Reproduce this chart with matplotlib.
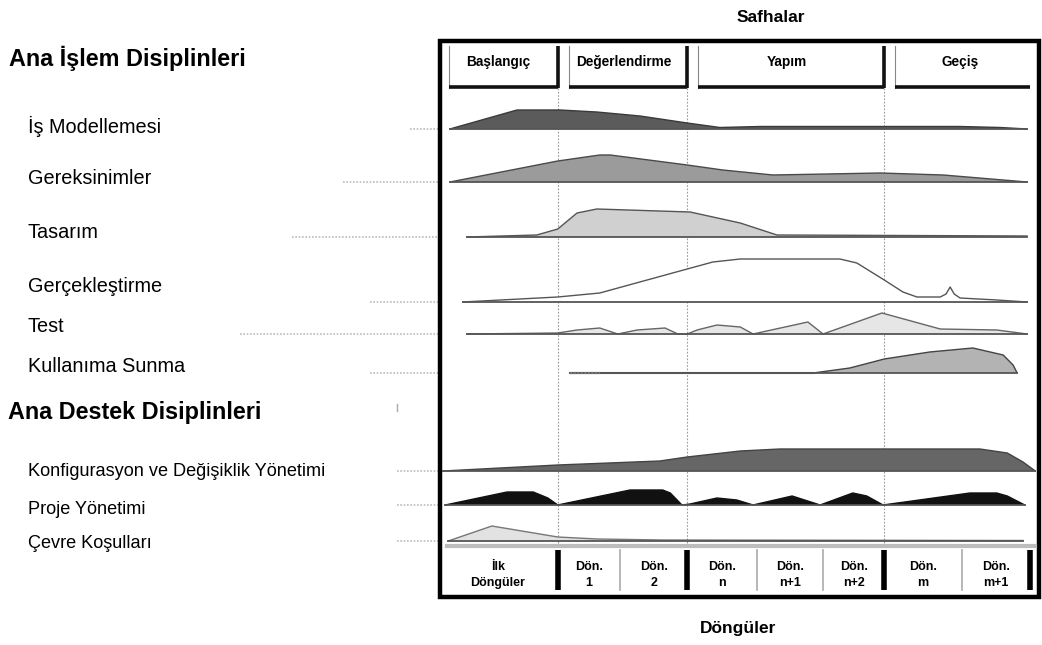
import matplotlib
matplotlib.use("Agg")
import matplotlib.pyplot as plt
from matplotlib.patches import Rectangle

plt.rcParams['font.family'] = ['Liberation Sans', 'DejaVu Sans']

# ---------------- data ----------------
phases = ["Başlangıç", "Değerlendirme", "Yapım", "Geçiş"]
phase_ends = [19.0, 41.2, 75.0, 100.0]          # % of project time

iterations = ["İlk\nDöngüler", "Dön.\n1", "Dön.\n2", "Dön.\nn", "Dön.\nn+1",
              "Dön.\nn+2", "Dön.\nm", "Dön.\nm+1"]
iter_edges = [0.0, 19.0, 29.7, 41.2, 53.2, 64.5, 75.0, 88.3, 100.0]

disciplines = ["İş Modellemesi", "Gereksinimler", "Tasarım", "Gerçekleştirme",
               "Test", "Kullanıma Sunma",
               "Konfigurasyon ve Değişiklik Yönetimi", "Proje Yönetimi",
               "Çevre Koşulları"]

is_t = [0.5, 12.0, 19.4, 25.7, 33.1, 41.2, 46.8, 53.7, 77.7, 88.0, 94.9, 99.5]
is_e = [0, 19, 19, 17, 13, 6, 1.5, 2.5, 2.5, 2.5, 1.5, 0]

ger_t = [0.5, 19.0, 26.2, 28.0, 41.2, 47.3, 55.9, 74.3, 85.1, 99.5]
ger_e = [0, 21, 27, 27, 17, 12, 7, 9, 7, 0]

tas_t = [3.4, 15.4, 19.0, 22.3, 25.7, 41.7, 50.3, 56.6, 99.5]
tas_e = [0, 2, 8, 24, 28, 25, 14, 2, 1]

gck_t = [2.7, 19.0, 26.2, 41.2, 45.6, 50.3, 67.4, 70.3, 75.0, 78.2, 80.6,
         84.6, 85.6, 86.3, 87.0, 88.0, 94.3, 99.5]
gck_e = [0, 5, 9, 33, 40, 43, 43, 39, 22, 10, 5, 5, 8, 15, 8, 4, 2, 0]

test_t = [3.4, 19.0, 22.3, 26.2, 29.3, 32.6, 37.4, 39.6, 41.2, 42.9, 46.3,
          50.3, 52.5, 61.9, 64.5, 74.6, 84.6, 94.3, 99.5]
test_e = [0, 1, 4, 6, 0, 4, 6, 0, 0, 4, 9, 7, 0, 12, 0, 21, 5, 4, 0]

kul_t = [21.1, 62.8, 69.1, 75.0, 82.8, 90.2, 95.4, 97.1, 97.8]
kul_e = [0, 0, 5, 14, 21, 25, 18, 8, 0]

kon_t = [-0.7, 19.0, 36.5, 41.2, 50.3, 57.1, 91.4, 96.1, 98.8, 100.9]
kon_e = [0, 6, 10, 14, 20, 22, 22, 18, 9, 0]

pro_t = [-0.3, 10.3, 14.8, 17.3, 19.0, 31.4, 37.0, 38.3, 40.3, 41.7, 46.3,
         49.7, 52.5, 59.2, 64.0, 69.6, 72.0, 74.8, 89.7, 94.3, 96.1, 99.1]
pro_e = [0, 13, 13, 7, 0, 15, 15, 12, 0, 1, 7, 5, 0, 9, 0, 12, 9, 0, 12, 12, 9, 0]

cev_t = [0.2, 7.7, 19.0, 25.7, 37.0, 98.8]
cev_e = [0, 15, 4, 2, 1, 0.5]

profiles = [(is_t, is_e), (ger_t, ger_e), (tas_t, tas_e), (gck_t, gck_e),
            (test_t, test_e), (kul_t, kul_e), (kon_t, kon_e), (pro_t, pro_e),
            (cev_t, cev_e)]

# ---------------- layout / style ----------------
W, H = 1042, 645
baselines = [129, 182, 237, 302, 334, 373, 471, 505, 541]
label_y = [126, 179, 232, 287, 327, 367, 471, 509, 543]
label_size = [14.3, 14.3, 14.3, 14.3, 14.3, 14.3, 13.1, 13.1, 13.1]
leader_x0 = [410, 343, 292, 370, 240, 370, 397, 397, 397]
fills = ["#5b5b5b", "#9b9b9b", "#d0d0d0", "#ffffff", "#e6e6e6", "#b3b3b3",
         "#666666", "#111111", "#e2e2e2"]
edges = ["#3a3a3a", "#4a4a4a", "#555555", "#555555", "#666666", "#444444",
         "#444444", "#111111", "#777777"]

fig = plt.figure(figsize=(W / 100, H / 100), dpi=100)
bg = fig.add_axes([0, 0, 1, 1])
bg.set_xlim(0, W)
bg.set_ylim(H, 0)
bg.axis("off")

X0, X1 = 447, 1030
ax = fig.add_axes([X0 / W, 0, (X1 - X0) / W, 1])
ax.set_xlim(0, 100)
ax.set_ylim(H, 0)
ax.axis("off")
ax.patch.set_alpha(0)

# titles
bg.text(771, 18, "Safhalar", ha="center", va="center", fontsize=12.5, fontweight="bold")
bg.text(738, 628, "Döngüler", ha="center", va="center", fontsize=12.5, fontweight="bold")
bg.text(9, 58, "Ana İşlem Disiplinleri", ha="left", va="center", fontsize=16.8, fontweight="bold")
bg.text(8, 412, "Ana Destek Disiplinleri", ha="left", va="center", fontsize=16.8, fontweight="bold")

# frame
bg.add_patch(Rectangle((440, 41), 599, 556, fill=False, lw=3.2, ec="black", zorder=10))

# left labels and leaders
for name, ly, fs, lx0, by in zip(disciplines, label_y, label_size, leader_x0, baselines):
    bg.text(28, ly, name, ha="left", va="center", fontsize=fs)
    bg.plot([lx0, 440], [by, by], color="#bbbbbb", lw=1.2, ls=(0, (1, 1)))
bg.plot([397, 397], [404, 411], color="#aaaaaa", lw=1)

# phase dotted lines
for pe in phase_ends[:-1]:
    ax.plot([pe, pe], [88, 547], color="#999999", lw=0.8, ls=(0, (1.5, 1.5)), zorder=3)

# header boxes
starts = [0.3] + [p + 1.9 for p in phase_ends[:-1]]
ends = phase_ends[:-1] + [100.6]
for name, s, e in zip(phases, starts, ends):
    ax.plot([s, s], [46, 88], color="#888888", lw=0.8, zorder=6)
    ax.plot([s, e], [87, 87], color="#111111", lw=2.6, zorder=6, solid_capstyle="butt")
    ax.plot([e, e], [46, 88.3], color="#111111", lw=2.6, zorder=6, solid_capstyle="butt")
    ax.text((s + e) / 2 - 0.8, 62, name, ha="center", va="center",
            fontsize=9.8, fontweight="bold", zorder=7)

# discipline humps
for (t, e), by, fc, ec in zip(profiles, baselines, fills, edges):
    top = [by - v for v in e]
    ax.fill_between(t, top, by, facecolor=fc, edgecolor="none", zorder=4, clip_on=False)
    ax.plot(t, top, color=ec, lw=1.0, zorder=5, clip_on=False)
    ax.plot([t[0], t[-1]], [by, by], color="#555555", lw=1.3, zorder=5, clip_on=False)

# Kullanıma Sunma lead-in line
ax.plot([21.1, 62.8], [373, 373], color="#bbbbbb", lw=1.6, zorder=4)
ax.plot([21.1, 26.2], [373, 373], color="#777777", lw=1.6, ls=(0, (1, 0.6)), zorder=5)

# iteration strip
ax.plot([0, 100.9], [546, 546], color="#bdbdbd", lw=3, zorder=5, clip_on=False)
for i, xe in enumerate(iter_edges[1:]):
    major = any(abs(xe - p) < 0.01 for p in phase_ends)
    if major:
        ax.plot([xe, xe], [550, 590], color="black", lw=4, zorder=6, clip_on=False,
                solid_capstyle="butt")
    else:
        ax.plot([xe, xe], [550, 590], color="#aaaaaa", lw=1.2, zorder=6, clip_on=False)
for i, (name, a, b) in enumerate(zip(iterations, iter_edges[:-1], iter_edges[1:])):
    cx = (a + b) / 2 - (0.8 if i == 0 else 0)
    ax.text(cx, 575, name, ha="center", va="center", fontsize=9,
            fontweight="bold", linespacing=1.5, zorder=7)

fig.savefig("out.png", dpi=100)
